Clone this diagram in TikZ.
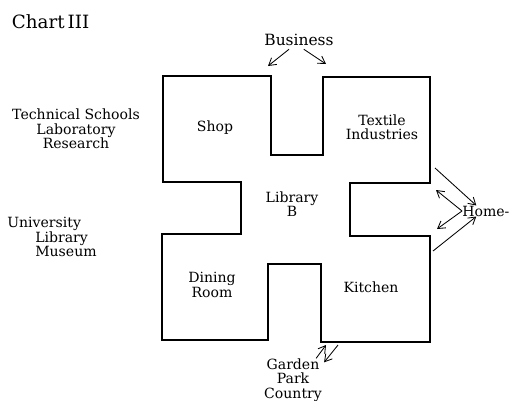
\documentclass[tikz,border=0pt]{standalone}
\usepackage{fontspec}
\setmainfont{DejaVu Serif}
\usetikzlibrary{arrows.meta}
\tikzset{
    room/.style={font=\fontsize{10}{10.3}\selectfont,align=center,inner sep=0pt},
    place/.style={font=\fontsize{10}{10.3}\selectfont,align=center,inner sep=0pt},
    wall/.style={line width=1.1pt,line join=miter},
    flow/.style={line width=0.6pt,-{Straight Barb[length=5pt,width=6pt]}}
}
\begin{document}
\begin{tikzpicture}[x=0.25mm,y=-0.25mm]
    \useasboundingbox (0,0) rectangle (515,400);
    % floor plan
    \draw[wall] (163,76) -- (271,76) -- (271,155) -- (323,155) -- (323,77) -- (430,77)
      -- (430,183) -- (350,183) -- (350,236) -- (430,236) -- (430,342) -- (321,342)
      -- (321,264) -- (268,264) -- (268,340) -- (162,340) -- (162,234) -- (241,234)
      -- (241,182) -- (163,182) -- cycle;
    % rooms
    \node[room] (shop) at (215,128) {Shop};
    \node[room] (textile) at (382,127) {Textile\\Industries};
    \node[room] (library) at (292,204) {Library\\B};
    \node[room] (dining) at (212,285) {Dining\\Room};
    \node[room] (kitchen) at (371,287) {Kitchen};
    % outside
    \node[font=\fontsize{13}{13}\selectfont,anchor=west] (chart) at (7,22) {Chart\,III};
    \node[place,font=\fontsize{11}{11}\selectfont] (business) at (299,40) {Business};
    \node[place] (schools) at (76,129) {Technical Schools\\Laboratory\\Research};
    \node[place,align=left,anchor=west] (university) at (7,237)
      {University\\\hspace*{7mm}Library\\\hspace*{7mm}Museum};
    \node[place,anchor=west] (home) at (462,211) {Home-};
    \node[place] (garden) at (293,380) {Garden\\Park\\Country};
    \coordinate (bizL) at (268,66);
    \coordinate (bizR) at (326,64);
    \coordinate (homeA) at (435,168);
    \coordinate (homeB) at (436,190);
    \coordinate (homeC) at (437,229);
    \coordinate (homeD) at (433,251);
    \coordinate (gardenIn) at (326,345);
    \coordinate (gardenOut) at (338,345);
    % arrows
    \draw[flow] ([shift={(-2.5mm,-0.8mm)}]business.south) -- (bizL);
    \draw[flow] ([shift={(1.2mm,-0.8mm)}]business.south) -- (bizR);
    \draw[flow] (homeA) -- (home.150);
    \draw[flow] (home.west) -- (homeB);
    \draw[flow] (home.west) -- (homeC);
    \draw[flow] (homeD) -- (home.210);
    \draw[flow] ([xshift=-1.5mm]garden.north east) -- (gardenIn);
    \draw[flow] (gardenOut) -- ([shift={(0.5mm,-1mm)}]garden.north east);
\end{tikzpicture}
\end{document}
